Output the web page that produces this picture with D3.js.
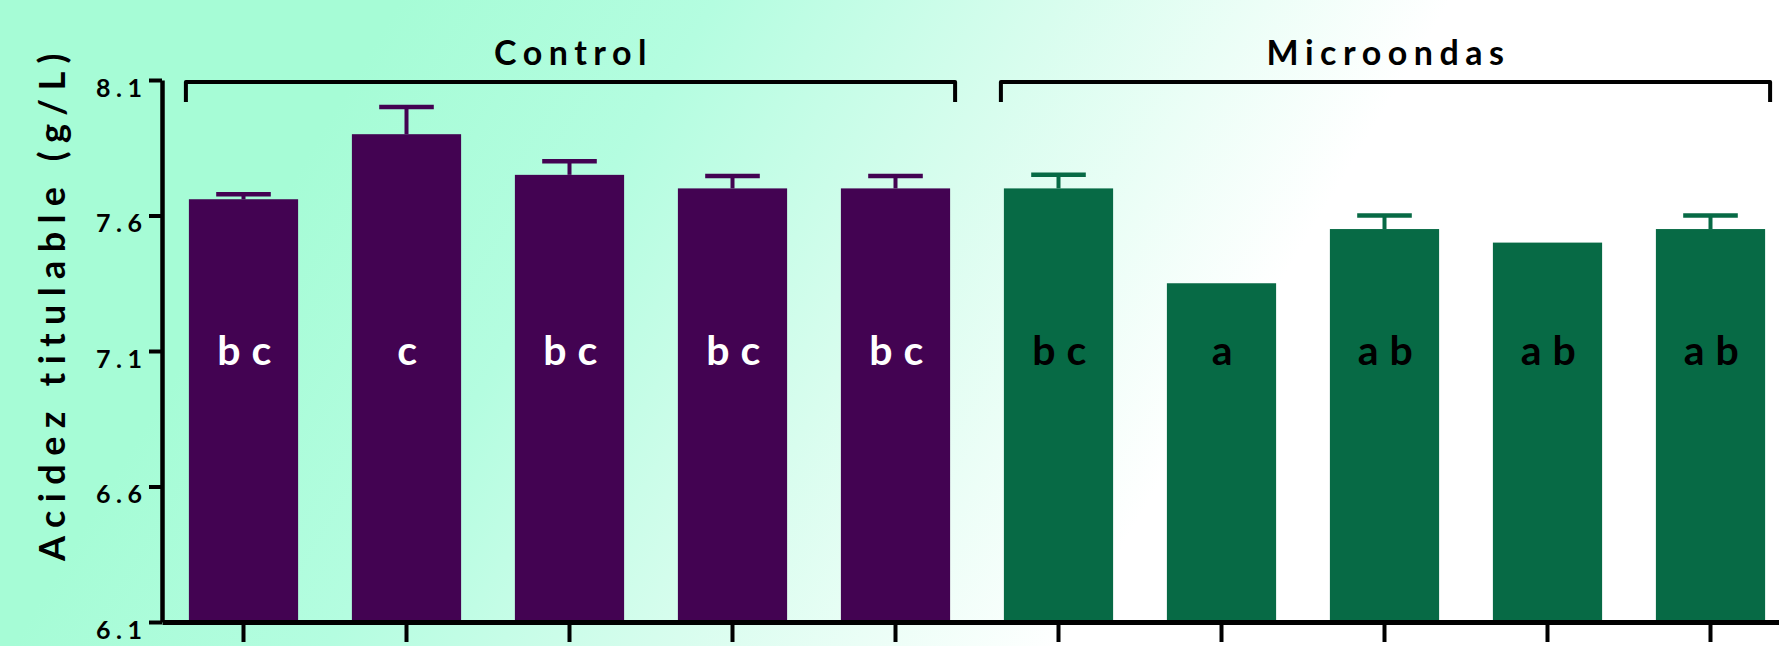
<!DOCTYPE html>
<html>
<head>
<meta charset="utf-8">
<script src="https://cdn.jsdelivr.net/npm/d3@7"></script>
<style>
  html, body { margin: 0; padding: 0; background: #ffffff; }
  svg { display: block; }
  text { font-family: Lato, "Open Sans", sans-serif; font-weight: 700; }
</style>
</head>
<body>
<svg id="chart" width="1779" height="646"></svg>
<script>
// Titratable acidity (g/L): five control samples and five microwave-treated samples
const groups = ["Control", "Microondas"];
const categories = ["C1", "C2", "C3", "C4", "C5", "M1", "M2", "M3", "M4", "M5"];
const groupOf = ["Control", "Control", "Control", "Control", "Control",
                 "Microondas", "Microondas", "Microondas", "Microondas", "Microondas"];
const means = [7.66, 7.90, 7.75, 7.70, 7.70, 7.70, 7.35, 7.55, 7.50, 7.55];
const errors = [0.018, 0.10, 0.05, 0.046, 0.046, 0.05, 0, 0.05, 0, 0.05];
const letters = ["b c", "c", "b c", "b c", "b c", "b c", "a", "a b", "a b", "a b"];
const yTicks = [6.1, 6.6, 7.1, 7.6, 8.1];
const yLabel = "Acidez titulable (g/L)";

const W = 1779, H = 646;
const fill = { "Control": "#430352", "Microondas": "#076a45" };
const letterColor = { "Control": "#ffffff", "Microondas": "#000000" };

const svg = d3.select("#chart");

// soft diagonal mint-to-white background
const defs = svg.append("defs");
const grad = defs.append("linearGradient")
  .attr("id", "bg").attr("gradientUnits", "userSpaceOnUse")
  .attr("x1", 294).attr("y1", 176).attr("x2", 1066).attr("y2", 640);
[[0, "#a6fcd6"], [0.3, "#b4fde0"], [0.63, "#d8fdee"], [1, "#ffffff"]].forEach(([o, c]) =>
  grad.append("stop").attr("offset", o).attr("stop-color", c));
svg.append("rect").attr("width", W).attr("height", H).attr("fill", "url(#bg)");

// scales
const y = d3.scaleLinear().domain([6.1, 8.1]).range([622, 80]);
const x = d3.scaleBand().domain(categories).range([162, 1792])
  .paddingInner(0.33).paddingOuter(0.165);
const bw = x.bandwidth();

// bars
svg.append("g").selectAll("rect").data(categories).join("rect")
  .attr("x", d => x(d))
  .attr("y", (d, i) => y(means[i]))
  .attr("width", bw)
  .attr("height", (d, i) => y(6.1) - y(means[i]))
  .attr("fill", (d, i) => fill[groupOf[i]]);

// upper error bars
const eb = svg.append("g");
categories.forEach((c, i) => {
  if (!errors[i]) return;
  const cx = x(c) + bw / 2, top = y(means[i] + errors[i]), col = fill[groupOf[i]];
  eb.append("line").attr("x1", cx).attr("x2", cx)
    .attr("y1", y(means[i])).attr("y2", top)
    .attr("stroke", col).attr("stroke-width", 4);
  eb.append("line").attr("x1", cx - bw / 4).attr("x2", cx + bw / 4)
    .attr("y1", top).attr("y2", top)
    .attr("stroke", col).attr("stroke-width", 4.5);
});

// significance letters
svg.append("g").selectAll("text").data(categories).join("text")
  .attr("x", d => x(d) + bw / 2 + 1)
  .attr("y", 365)
  .attr("text-anchor", "middle")
  .style("font-size", "41px")
  .attr("letter-spacing", 0.5)
  .attr("fill", (d, i) => letterColor[groupOf[i]])
  .text((d, i) => letters[i]);

// y axis
const yAxis = svg.append("g").attr("transform", "translate(162,0)")
  .call(d3.axisLeft(y).tickValues(yTicks).tickSize(13).tickSizeOuter(0)
    .tickPadding(1.5).tickFormat(d3.format(".1f")));
yAxis.select(".domain").attr("stroke", "#000").attr("stroke-width", 4.5);
yAxis.selectAll(".tick line").attr("stroke", "#000").attr("stroke-width", 4);
yAxis.selectAll(".tick text").attr("y", 8).attr("fill", "#000")
  .style("font-size", "25px").style("letter-spacing", "5.5px")
  .style("font-weight", 700);

// x axis (unlabelled ticks under each bar)
const xAxis = svg.append("g").attr("transform", "translate(0,622)")
  .call(d3.axisBottom(x).tickSize(20).tickSizeOuter(0).tickFormat(""));
xAxis.select(".domain").attr("stroke", "#000").attr("stroke-width", 5);
xAxis.selectAll(".tick line").attr("stroke", "#000").attr("stroke-width", 4);

// y axis title
svg.append("text")
  .attr("transform", "translate(65,303) rotate(-90)")
  .attr("text-anchor", "middle")
  .style("font-size", "36px")
  .attr("letter-spacing", 8.4)
  .attr("fill", "#000")
  .text(yLabel);

// group brackets with their titles
groups.forEach(g => {
  const members = categories.filter((c, i) => groupOf[i] === g);
  const x0 = x(members[0]) - 3, x1 = x(members[members.length - 1]) + bw + 5;
  svg.append("path")
    .attr("d", `M${x0},102V82H${x1}V102`)
    .attr("fill", "none").attr("stroke", "#000").attr("stroke-width", 4)
    .attr("stroke-linejoin", "round");
  svg.append("text")
    .attr("x", (x0 + x1) / 2 + 3).attr("y", 65)
    .attr("text-anchor", "middle")
    .style("font-size", "34px")
    .attr("letter-spacing", 6.5)
    .attr("fill", "#000")
    .text(g);
});
</script>
</body>
</html>
